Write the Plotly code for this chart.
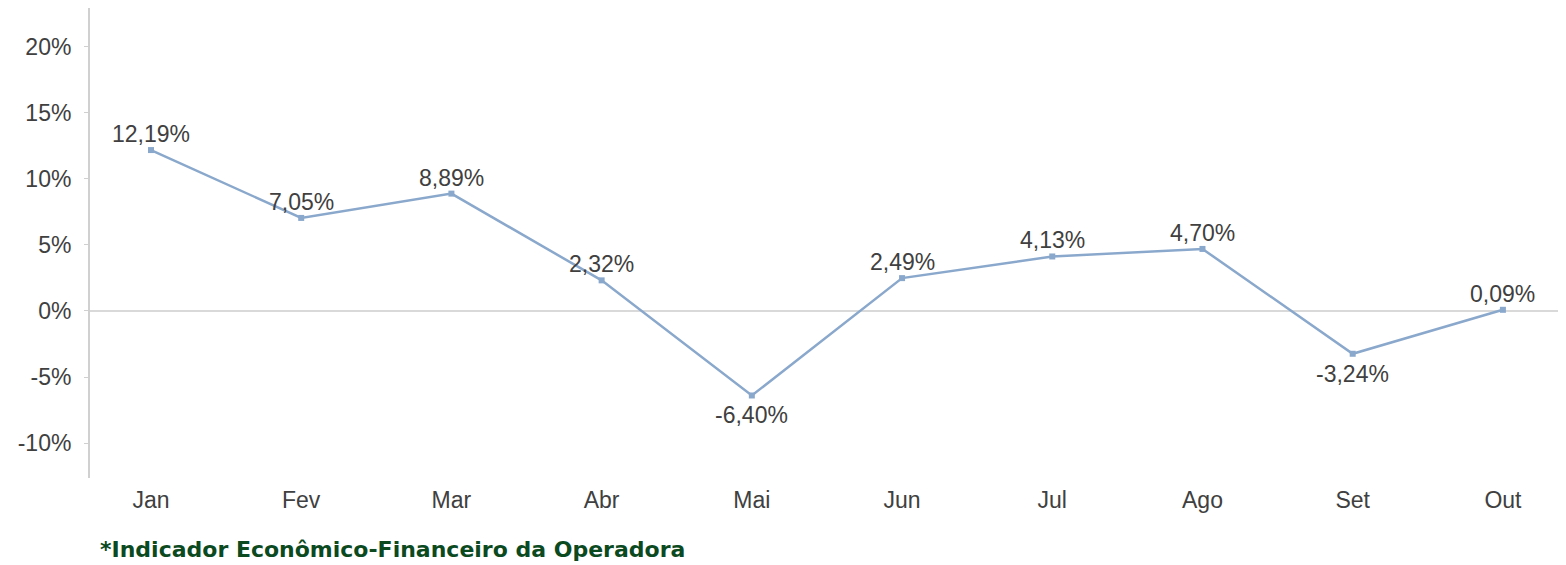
import plotly.graph_objects as go

months = ["Jan", "Fev", "Mar", "Abr", "Mai", "Jun", "Jul", "Ago", "Set", "Out"]
values = [12.19, 7.05, 8.89, 2.32, -6.40, 2.49, 4.13, 4.70, -3.24, 0.09]
label_below = [False, False, False, False, True, False, False, False, True, False]
tick_vals = [-10, -5, 0, 5, 10, 15, 20]
tick_text = ["-10%", "-5%", "0%", "5%", "10%", "15%", "20%"]
footer = "*Indicador Econômico-Financeiro da Operadora"

labels = [f"{v:.2f}%".replace(".", ",") for v in values]

# page body has an 8px margin; compensate so the plot area sits at x 90..1566, y 8..478
W, H = 1566, 565
L, T, R, B = 82, 0, 8, 95
plot_w = W - L - R
plot_h = H - T - B
LINE = "#8aa8cc"

fig = go.Figure()
fig.add_trace(go.Scatter(
    x=list(range(len(months))), y=values,
    mode="lines+markers",
    line=dict(color=LINE, width=2.5),
    marker=dict(symbol="square", size=6, color=LINE),
    cliponaxis=False,
    showlegend=False,
))

annotations = []
for i, (lab, v, below) in enumerate(zip(labels, values, label_below)):
    annotations.append(dict(
        x=i, y=v, xref="x", yref="y", text=lab, showarrow=False,
        xanchor="center", yanchor="middle",
        yshift=-20 if below else 16,
        font=dict(family="Liberation Sans, Arial", size=23, color="#404040"),
    ))
annotations.append(dict(
    text=f"<b>{footer}</b>", xref="paper", yref="paper",
    x=(98 - 90) / plot_w, y=-(549 - 478) / plot_h,
    xanchor="left", yanchor="middle",
    showarrow=False,
    font=dict(family="DejaVu Sans", size=22, color="#0b4a1f"),
))

fig.update_layout(
    width=W, height=H,
    margin=dict(l=L, r=R, t=T, b=B, autoexpand=False),
    paper_bgcolor="white", plot_bgcolor="white",
    font=dict(family="Liberation Sans, Arial", size=23, color="#404040"),
    xaxis=dict(
        tickmode="array", tickvals=list(range(len(months))), ticktext=months,
        range=[-0.406, 9.42], showgrid=False, zeroline=False, showline=False,
        ticks="", ticklabelstandoff=6,
    ),
    yaxis=dict(
        tickmode="array", tickvals=tick_vals, ticktext=tick_text,
        range=[-12.65, 22.95], showgrid=False,
        zeroline=True, zerolinecolor="#d9d9d9", zerolinewidth=1.5,
        showline=True, linecolor="#d0d0d0", linewidth=2,
        ticks="outside", ticklen=4, tickcolor="#d0d0d0", tickwidth=1,
        ticklabelstandoff=8,
    ),
    annotations=annotations,
)

fig.write_html("out.html")
